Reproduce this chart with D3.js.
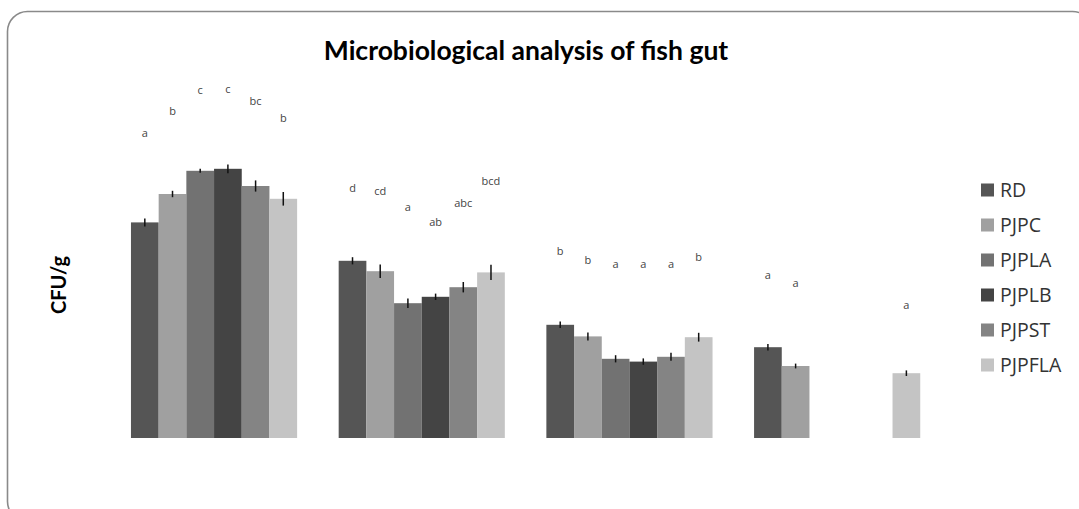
<!DOCTYPE html>
<html>
<head>
<meta charset="utf-8">
<script src="https://cdn.jsdelivr.net/npm/d3@7"></script>
<style>
html,body{margin:0;padding:0;background:#fff;}
svg{display:block;}
</style>
</head>
<body>
<svg id="chart" width="1079" height="509"></svg>
<script>
const categories = ["Group 1", "Group 2", "Group 3", "Group 4"];
const seriesNames = ["RD", "PJPC", "PJPLA", "PJPLB", "PJPST", "PJPFLA"];
const seriesColors = ["#555555", "#a0a0a0", "#727272", "#444444", "#848484", "#c4c4c4"];

const valRD     = [5.39, 4.43, 2.83, 2.27];
const valPJPC   = [6.10, 4.17, 2.54, 1.80];
const valPJPLA  = [6.68, 3.37, 1.98, null];
const valPJPLB  = [6.73, 3.53, 1.91, null];
const valPJPST  = [6.30, 3.77, 2.03, null];
const valPJPFLA = [5.98, 4.14, 2.52, 1.62];

const errRD     = [0.10, 0.09, 0.08, 0.08];
const errPJPC   = [0.08, 0.17, 0.10, 0.06];
const errPJPLA  = [0.05, 0.12, 0.09, null];
const errPJPLB  = [0.11, 0.08, 0.08, null];
const errPJPST  = [0.14, 0.13, 0.10, null];
const errPJPFLA = [0.17, 0.19, 0.11, 0.07];

const letRD     = ["a", "d", "b", "a"];
const letPJPC   = ["b", "cd", "b", "a"];
const letPJPLA  = ["c", "a", "a", ""];
const letPJPLB  = ["c", "ab", "a", ""];
const letPJPST  = ["bc", "abc", "a", ""];
const letPJPFLA = ["b", "bcd", "b", "a"];

// level (in value units) at which each significance letter is placed
const letLvlRD     = [7.63, 6.24, 4.68, 4.08];
const letLvlPJPC   = [8.18, 6.16, 4.45, 3.88];
const letLvlPJPLA  = [8.70, 5.76, 4.34, null];
const letLvlPJPLB  = [8.73, 5.39, 4.34, null];
const letLvlPJPST  = [8.41, 5.87, 4.34, null];
const letLvlPJPFLA = [8.00, 6.43, 4.53, 3.31];

const values  = [valRD, valPJPC, valPJPLA, valPJPLB, valPJPST, valPJPFLA];
const errors  = [errRD, errPJPC, errPJPLA, errPJPLB, errPJPST, errPJPFLA];
const letters = [letRD, letPJPC, letPJPLA, letPJPLB, letPJPST, letPJPFLA];
const letLvls = [letLvlRD, letLvlPJPC, letLvlPJPLA, letLvlPJPLB, letLvlPJPST, letLvlPJPFLA];

const svg = d3.select("#chart");

// outer rounded frame
svg.append("rect")
  .attr("x", 7.5).attr("y", 11.5).attr("width", 1085).attr("height", 510)
  .attr("rx", 20).attr("ry", 20)
  .attr("fill", "#fff").attr("stroke", "#8a8a8a").attr("stroke-width", 1.6);

const x0 = d3.scaleBand().domain(categories).range([110.2, 941]).paddingInner(0.2).paddingOuter(0.1);
const x1 = d3.scaleBand().domain(seriesNames).range([0, x0.bandwidth()]).padding(0);
const y = d3.scaleLinear().domain([0, 9]).range([438, 78]);

const rows = [];
seriesNames.forEach((s, si) => {
  categories.forEach((c, ci) => {
    rows.push({s, si, c, ci, v: values[si][ci], e: errors[si][ci], l: letters[si][ci], ll: letLvls[si][ci]});
  });
});
const present = rows.filter(d => d.v != null);

const g = svg.append("g");
g.selectAll("rect.bar").data(present).enter().append("rect")
  .attr("class", "bar")
  .attr("x", d => x0(d.c) + x1(d.s))
  .attr("y", d => y(d.v))
  .attr("width", x1.bandwidth())
  .attr("height", d => y(0) - y(d.v))
  .attr("fill", d => seriesColors[d.si]);

g.selectAll("line.err").data(present).enter().append("line")
  .attr("class", "err")
  .attr("x1", d => x0(d.c) + x1(d.s) + x1.bandwidth() / 2)
  .attr("x2", d => x0(d.c) + x1(d.s) + x1.bandwidth() / 2)
  .attr("y1", d => y(d.v + d.e))
  .attr("y2", d => y(d.v - d.e))
  .attr("stroke", "#111").attr("stroke-width", 1.5);

g.selectAll("text.let").data(present.filter(d => d.l)).enter().append("text")
  .attr("class", "let")
  .attr("x", d => x0(d.c) + x1(d.s) + x1.bandwidth() / 2)
  .attr("y", d => y(d.ll))
  .attr("dy", "0.35em")
  .attr("text-anchor", "middle")
  .attr("font-family", "'Open Sans', sans-serif")
  .attr("font-size", 11)
  .attr("fill", "#444")
  .text(d => d.l);

// title
svg.append("text")
  .attr("x", 526).attr("y", 60)
  .attr("text-anchor", "middle")
  .attr("font-family", "Lato, 'Open Sans', sans-serif")
  .attr("font-weight", "bold")
  .attr("font-size", 26.5)
  .attr("fill", "#000")
  .text("Microbiological analysis of fish gut");

// y label
svg.append("text")
  .attr("transform", "translate(66,285) rotate(-90)")
  .attr("text-anchor", "middle")
  .attr("font-family", "Lato, 'Open Sans', sans-serif")
  .attr("font-weight", "bold")
  .attr("font-size", 20)
  .attr("fill", "#000")
  .text("CFU/g");

// legend
const legend = svg.append("g").selectAll("g").data(seriesNames).enter().append("g")
  .attr("transform", (d, i) => `translate(981, ${190 + i * 35})`);
legend.append("rect")
  .attr("x", 0).attr("y", -6.5).attr("width", 13).attr("height", 13)
  .attr("fill", (d, i) => seriesColors[i]);
legend.append("text")
  .attr("x", 19).attr("y", 0).attr("dy", "0.36em")
  .attr("font-family", "'Open Sans', sans-serif")
  .attr("font-size", 19.5)
  .attr("fill", "#333")
  .text(d => d);
</script>
</body>
</html>
